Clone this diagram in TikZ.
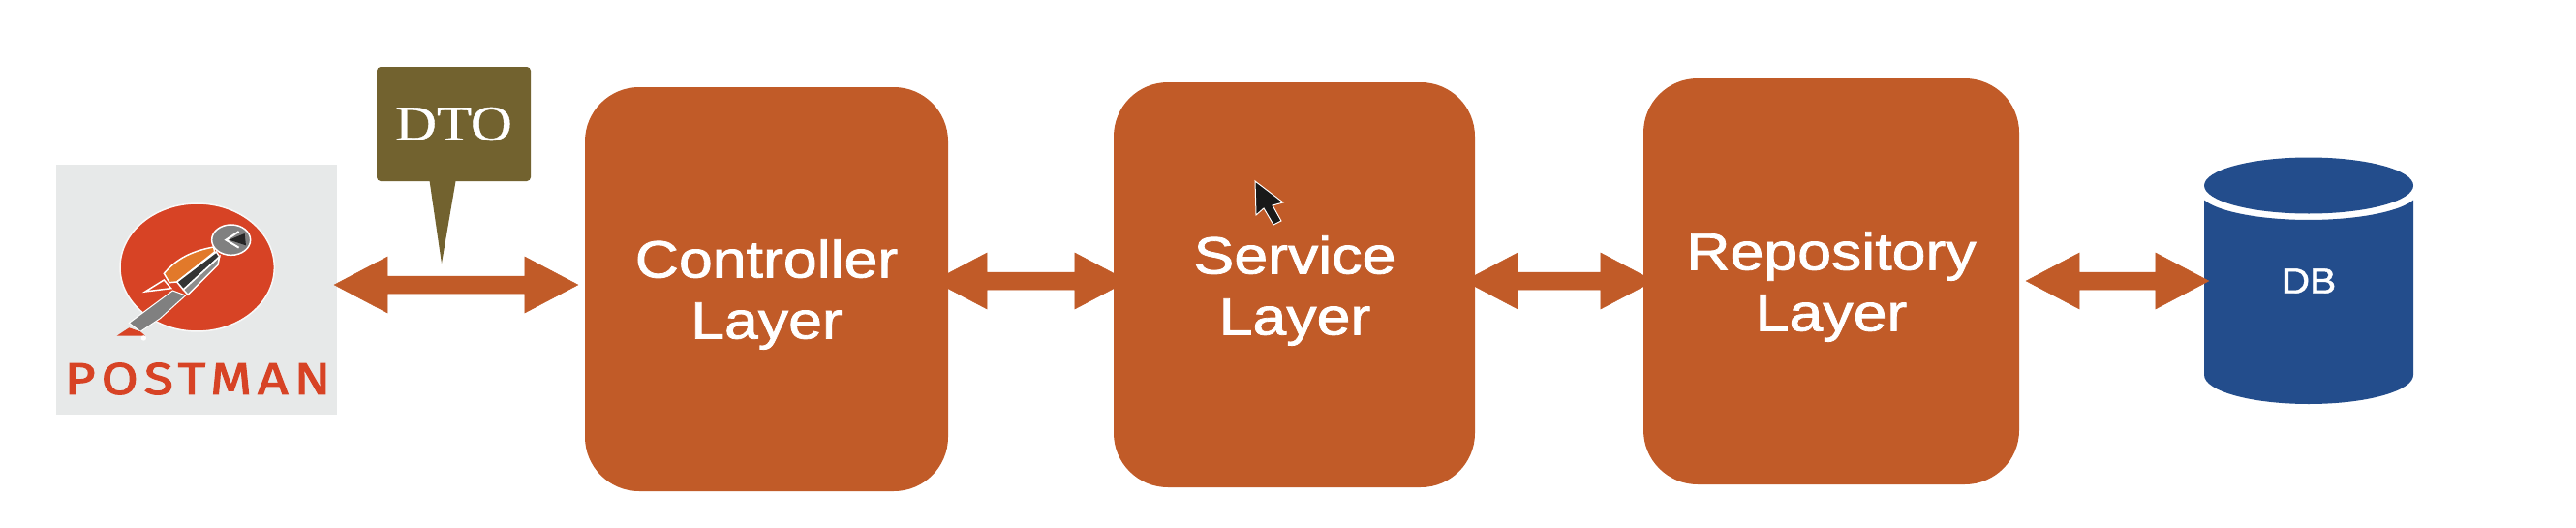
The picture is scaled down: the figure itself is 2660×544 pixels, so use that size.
\documentclass[tikz,border=0pt]{standalone}
\usepackage{fontspec}
\setmainfont{Liberation Sans}
\newfontfamily\layerfont[FakeBold=1.5,FakeStretch=1.16]{Liberation Sans}
\newfontfamily\dbfont[FakeBold=1.2,FakeStretch=1.1]{Liberation Sans}
\newfontfamily\dtofont[FakeBold=0.8,FakeStretch=1.16]{Liberation Serif}
\newfontfamily\pmfont[FakeBold=2.5,FakeStretch=1.2,LetterSpace=13]{Fira Sans}
\usetikzlibrary{calc}
\definecolor{layerc}{HTML}{C15B28}
\definecolor{dtoc}{HTML}{72622F}
\definecolor{pmbg}{HTML}{E7E9E9}
\definecolor{pmred}{HTML}{D74325}
\definecolor{pmorange}{HTML}{E2792A}
\definecolor{dbc}{HTML}{234D8C}
\tikzset{
  layerbox/.style={fill=layerc,rounded corners=56pt,inner sep=0pt},
  layertext/.style={inner sep=0pt,text=white,align=center,font=\layerfont\fontsize{54}{63}\selectfont},
  twowaystyle/.style={draw=layerc,fill=layerc,line width=0.5pt},
}
\newcommand{\twoway}[2]{%
  \draw[twowaystyle] let \p1=#1,\p2=#2 in (\p1)
    -- (\x1+55pt,\y1+29pt) -- (\x1+55pt,\y1+9pt) -- (\x2-55pt,\y1+9pt) -- (\x2-55pt,\y1+29pt)
    -- (\x2,\y1) -- (\x2-55pt,\y1-29pt) -- (\x2-55pt,\y1-9pt) -- (\x1+55pt,\y1-9pt) -- (\x1+55pt,\y1-29pt) -- cycle;
}
\begin{document}
\begin{tikzpicture}[x=1pt,y=-1pt]
\useasboundingbox (0,0) rectangle (2660,544);
\fill[white] (0,0) rectangle (2660,544);
% Postman card
\node[fill=pmbg,inner sep=0pt,minimum width=290pt,minimum height=258pt] (postman) at (203,299) {};
\node[inner sep=0pt,text=pmred,font=\pmfont\fontsize{46}{46}\selectfont] (pmtext) at (204,391) {POSTMAN};
\begin{scope}[shift={(50,165)}]
\begin{scope}[x=0.3333pt,y=-0.3333pt]
\draw[white!70!pmbg,line width=1.5pt,fill=pmred] (461,333) ellipse [x radius=239,y radius=198];
\draw[white,line width=1.5pt] (358,372) -- (300,408) -- (380,398) -- cycle;
\draw[white,line width=1pt,fill=black!50] (385,405) -- (250,505) -- (285,532) -- (345,492) -- (425,420) -- cycle;
\draw[white,line width=1.5pt,fill=pmorange] (358,352) .. controls (390,315) and (430,285) .. (512,270) -- (515,285) -- (398,378) -- (375,380) -- cycle;
\draw[white,line width=1.5pt,fill=black!80] (520,285) -- (398,378) -- (418,402) -- (530,300) -- cycle;
\draw[white,line width=1.5pt,fill=black!45] (530,300) -- (525,325) -- (432,418) -- (418,402) -- cycle;
\fill[pmred] (212,545) -- (250,520) -- (285,532) -- (300,545) -- cycle;
\fill[white] (295,552) circle [radius=8];
\draw[white,line width=1.5pt,fill=black!50] (566,248) ellipse [x radius=60,y radius=47];
\fill[black!85] (560,248) -- (608,228) -- (612,265) -- cycle;
\draw[white,line width=2pt] (590,222) -- (550,248) -- (590,272);
\end{scope}
\end{scope}
% DTO callout
\node[fill=dtoc,rounded corners=4pt,inner sep=0pt,minimum width=159pt,minimum height=118pt,text=white,
  font=\dtofont\fontsize{51}{51}\selectfont] (dto) at (468.5,128) {\raisebox{-4pt}{DTO}};
\coordinate (dtotip) at (456,272);
\fill[dtoc] ([xshift=-25pt]dto.south) ++(0,-1) -- (dtotip) -- ([xshift=2pt]dto.south) -- cycle;
% Layers
\node[layerbox,minimum width=375pt,minimum height=417pt] (ctrl) at (791.5,298.5) {};
\node[layerbox,minimum width=373pt,minimum height=418pt] (svc) at (1336.5,294) {};
\node[layerbox,minimum width=388pt,minimum height=419pt] (repo) at (1891,290.5) {};
\node[layertext] (ctrllabel) at (791.5,304) {Controller\\Layer};
\node[layertext] (svclabel) at (1337,300) {Service\\Layer};
\node[layertext] (repolabel) at (1891,296) {Repository\\Layer};
% DB
\fill[dbc] (2276,206.5) arc [start angle=162.9,end angle=17.1,x radius=113,y radius=29]
  -- (2492,387) arc [start angle=0,end angle=180,x radius=108,y radius=30] -- cycle;
\fill[dbc] (2384,191.5) ellipse [x radius=108,y radius=29];
\node[inner sep=0pt,minimum width=216pt,minimum height=254pt,text=white,font=\dbfont\fontsize{37}{37}\selectfont] (db) at (2384,290) {DB};
% Connectors
\twoway{([xshift=-3pt,yshift=5pt]postman.east)}{([xshift=-7pt,yshift=4.5pt]ctrl.west)}
\twoway{([xshift=-15pt,yshift=8.5pt]ctrl.east)}{([xshift=15pt,yshift=4pt]svc.west)}
\twoway{([xshift=-11pt,yshift=4pt]svc.east)}{([xshift=11pt,yshift=0.5pt]repo.west)}
\twoway{([xshift=7pt,yshift=0.5pt]repo.east)}{([xshift=5pt]db.west)}
% Cursor
\draw[white,line width=1pt,fill=black!90] (1296,187) -- (1297,222) -- (1305,215) -- (1315,232) -- (1323,228) -- (1314,212) -- (1325,209) -- cycle;
\end{tikzpicture}
\end{document}
